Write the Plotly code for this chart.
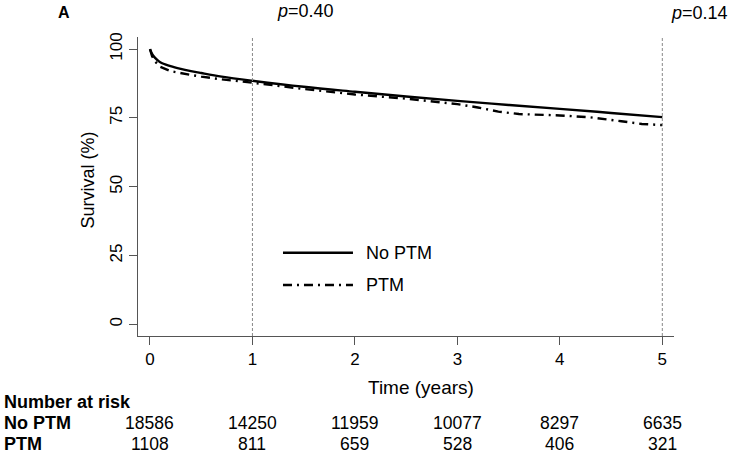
import plotly.graph_objects as go

# ---- data ----
t_noptm = [0, 0.02, 0.05, 0.1, 0.2, 0.3, 0.4, 0.5, 0.7, 1.0, 1.5, 2.0, 2.5, 3.0, 3.5, 4.0, 4.5, 5.0]
s_noptm = [100, 98.3, 96.8, 95.2, 93.8, 92.8, 92.0, 91.3, 90.0, 88.5, 86.3, 84.5, 82.8, 81.2, 79.7, 78.3, 76.8, 75.3]

t_ptm = [0, 0.02, 0.05, 0.1, 0.2, 0.3, 0.4, 0.5, 0.7, 1.0, 1.5, 2.0, 2.5, 3.0, 3.2, 3.4, 3.6, 4.0, 4.3, 4.6, 4.8, 5.0]
s_ptm = [100, 97.5, 95.5, 93.6, 92.0, 91.2, 90.6, 90.0, 89.0, 87.8, 85.5, 83.5, 82.0, 80.0, 78.8, 77.3, 76.4, 75.9, 75.2, 73.8, 72.8, 72.4]

risk_times = [0, 1, 2, 3, 4, 5]
risk_noptm = [18586, 14250, 11959, 10077, 8297, 6635]
risk_ptm = [1108, 811, 659, 528, 406, 321]

y_ticks = [0, 25, 50, 75, 100]
x_ticks = [0, 1, 2, 3, 4, 5]
p_lines = [1, 5]
p_labels = ["0.40", "0.14"]
series_names = ["No PTM", "PTM"]

FONT = "Liberation Sans, Arial, sans-serif"
AX = "#555555"
DASHDOT = "9px,5px,2px,5px"

fig = go.Figure()
fig.add_trace(go.Scatter(x=t_noptm, y=s_noptm, mode="lines", name=series_names[0],
                         line=dict(color="black", width=2.4), line_shape="spline",
                         showlegend=False))
fig.add_trace(go.Scatter(x=t_ptm, y=s_ptm, mode="lines", name=series_names[1],
                         line=dict(color="black", width=2.4, dash=DASHDOT),
                         showlegend=False))

shapes = []
for xv in p_lines:
    shapes.append(dict(type="line", xref="x", yref="paper", x0=xv, x1=xv, y0=0, y1=1,
                       line=dict(color="#888888", width=1, dash="3px,2px")))
# legend keys
shapes.append(dict(type="line", xref="x", yref="paper", x0=1.298, x1=1.981, y0=0.2786, y1=0.2786,
                   line=dict(color="black", width=2.4)))
shapes.append(dict(type="line", xref="x", yref="paper", x0=1.298, x1=1.981, y0=0.1706, y1=0.1706,
                   line=dict(color="black", width=2.4, dash=DASHDOT)))

ann = []
for lab, yv in zip(series_names, [0.2786, 0.1706]):
    ann.append(dict(x=2.089, y=yv, xref="x", yref="paper", text=lab, showarrow=False,
                    xanchor="left", yanchor="middle", font=dict(size=18, color="black")))
for xv, lab, yv in zip(p_lines, p_labels, [1.087, 1.081]):
    ann.append(dict(x=xv + 0.22 if xv == 1 else xv + 0.065, y=yv, xref="x", yref="paper",
                    text="<i>p</i>=" + lab, showarrow=False, xanchor="left", yanchor="middle",
                    font=dict(size=18, color="black")))
ann.append(dict(x=-0.138, y=1.0803, xref="paper", yref="paper", text="<b>A</b>", showarrow=False,
                xanchor="center", yanchor="middle", font=dict(size=16, color="black")))
ann.append(dict(x=2.645, y=-0.1706, xref="x", yref="paper", text="Time (years)", showarrow=False,
                xanchor="center", yanchor="middle", font=dict(size=19, color="black")))
ann.append(dict(x=-0.0951, y=0.52, xref="paper", yref="paper", text="Survival (%)", showarrow=False,
                textangle=-90, xanchor="center", yanchor="middle", font=dict(size=18, color="black")))
ann.append(dict(x=-0.254, y=-0.2197, xref="paper", yref="paper", text="<b>Number at risk</b>",
                showarrow=False, xanchor="left", yanchor="middle", font=dict(size=18, color="black")))
for lab, vals, yv in zip(series_names, [risk_noptm, risk_ptm], [-0.2920, -0.3612]):
    ann.append(dict(x=-0.254, y=yv, xref="paper", yref="paper", text="<b>" + lab + "</b>",
                    showarrow=False, xanchor="left", yanchor="middle", font=dict(size=18, color="black")))
    for tv, v in zip(risk_times, vals):
        ann.append(dict(x=tv, y=yv, xref="x", yref="paper", text=str(v), showarrow=False,
                        xanchor="center", yanchor="middle", font=dict(size=17.5, color="black")))

fig.update_layout(
    width=729, height=453,
    margin=dict(l=138, r=55, t=37, b=117),
    paper_bgcolor="white", plot_bgcolor="white",
    font=dict(family=FONT, size=16, color="black"),
    showlegend=False,
    shapes=shapes, annotations=ann,
    xaxis=dict(range=[-0.117, 5.114], tickvals=x_ticks, ticks="outside", ticklen=8, tickwidth=1,
               tickcolor=AX, showline=True, linecolor=AX, linewidth=1, showgrid=False,
               zeroline=False, tickfont=dict(size=17, color="black")),
    yaxis=dict(range=[-4.25, 104.4], tickvals=y_ticks, ticks="outside", ticklen=8, tickwidth=1,
               tickcolor=AX, showline=True, linecolor=AX, linewidth=1, showgrid=False,
               zeroline=False, tickangle=-90, tickfont=dict(size=17, color="black")),
)

fig.write_html("out.html", config={"displayModeBar": False},
               post_script="document.body.style.margin='0';")
